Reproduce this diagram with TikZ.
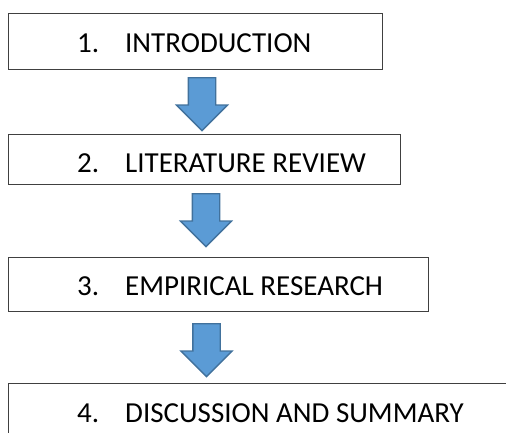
\documentclass[tikz,border=0pt]{standalone}
\usepackage{fontspec}
\setmainfont{Carlito}
\usetikzlibrary{shapes.arrows,positioning}
\definecolor{arrowblue}{RGB}{91,155,213}
\definecolor{arrowedge}{RGB}{65,113,156}
\tikzset{
  stagebox/.style={draw=black!75, line width=1.2pt, anchor=north west, inner sep=0pt},
  stagetext/.style={anchor=base west, inner sep=0pt, font=\fontsize{29}{34}\selectfont},
  downarrow/.style={single arrow, draw=arrowedge, fill=arrowblue, line width=1.3pt,
    rotate=-90, anchor=tail, minimum height=53pt, inner xsep=0pt, inner ysep=13pt,
    single arrow head extend=12pt}
}
\newcommand{\stagenum}[1]{\makebox[48pt][l]{#1}}

\begin{document}
\begin{tikzpicture}[x=1pt,y=1pt]
    \useasboundingbox (0,0) rectangle (506,-432);
    \clip (0,0) rectangle (506,-432);
    % the four stages
    \node[stagebox, minimum width=374.5pt, minimum height=56pt] (intro) at (7.5,-13) {};
    \node[stagebox, minimum width=392pt, minimum height=50pt] (review) at (8,-134) {};
    \node[stagebox, minimum width=420pt, minimum height=54pt] (research) at (8,-257) {};
    \node[stagebox, minimum width=520pt, minimum height=80pt] (summary) at (8,-383) {};
    \node[stagetext] (introtext) at (77,-52) {\stagenum{1.}INTRODUCTION};
    \node[stagetext] (reviewtext) at (77,-172) {\stagenum{2.}LITERATURE REVIEW};
    \node[stagetext] (researchtext) at (77,-295) {\stagenum{3.}EMPIRICAL RESEARCH};
    \node[stagetext] (summarytext) at (77,-422) {\stagenum{4.}DISCUSSION AND SUMMARY};
    % block arrows in between
    \foreach \pos/\name in {(202,-77)/intoreview,(206,-193)/intoresearch,(206.5,-323)/intosummary}
        \node[downarrow] (\name) at \pos {};
\end{tikzpicture}
\end{document}
